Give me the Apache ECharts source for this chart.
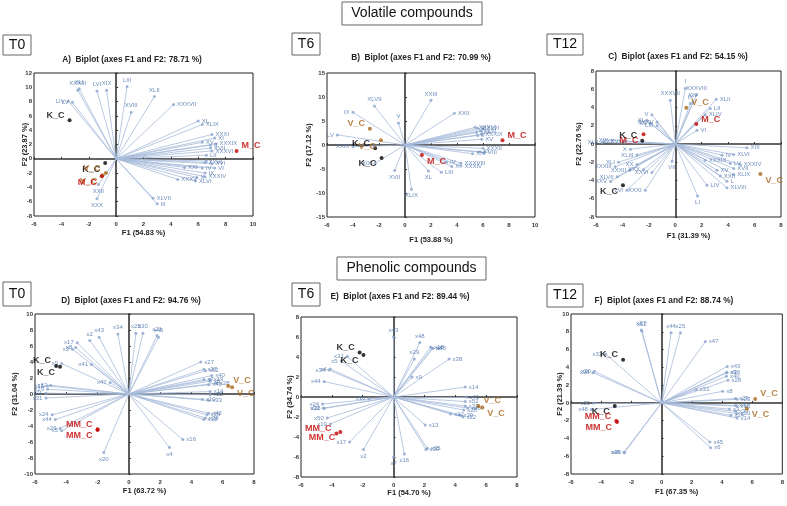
<!DOCTYPE html>
<html><head><meta charset="utf-8">
<script src="https://cdn.jsdelivr.net/npm/echarts@6/dist/echarts.min.js"></script>
<style>html,body{margin:0;padding:0;background:#fff}#c{width:787px;height:506px}</style>
</head><body><div id="c"></div>
<script>
// ---------- DATA ----------
// Volatile compounds, T0 : variable loadings [name, F1, F2]
const volT0Vars = [
 ['XXXIII',-2.8,9.6],['XLI',-2.7,9.8],['LIV',-3.5,8.1],['LV',-3.2,7.9],['LVI',-1.4,9.5],['XIX',-0.7,9.6],
 ['LIII',0.8,10.1],['XVIII',1.1,6.5],['XLII',2.8,8.7],['XXXVII',4.2,7.6],['XL',6.0,5.3],['XLIX',6.3,4.8],
 ['XXXI',7.0,3.4],['XI',7.2,2.9],['XV',6.3,2.3],['XXXIX',7.3,2.1],['II',6.9,1.9],['XVII',6.9,1.5],
 ['XXXVI',7.0,1.1],['LII',6.6,0.5],['XXVI',6.5,-0.5],['I',6.6,-0.3],['XVI',7.0,-0.7],['IV',6.3,-1.3],
 ['VI',7.2,-1.3],['XXI',5.0,-1.2],['IX',6.5,-2.0],['XXXV',4.5,-2.9],['X',5.9,-2.6],['XXXIV',6.5,-2.5],
 ['XLVI',5.8,-3.1],['XLVII',2.7,-5.5],['III',3.0,-6.3],['XXII',-1.3,-3.6],['XXX',-1.4,-5.6]
];
// observations [name, F1, F2]
const volT0Obs = [['K_C',-3.4,5.4],['K_C',-0.8,-0.6],['V_C',-0.75,-2.0],['V_C',-1.0,-2.3],['M_C',8.8,1.1],['M_C',-1.05,-2.45]];

const volT6Vars = [
 ['XXIII',2.0,9.3],['XXII',3.8,6.6],['XLVII',-2.35,8.1],['IX',-4.0,6.8],['V',-0.5,4.6],['LV',-5.2,2.1],
 ['XXIX',-4.0,-0.35],['XIX',-2.3,-3.8],['XVII',-0.8,-5.3],['XLIX',0.5,-9.2],['XXXVI',5.4,3.7],['XLVI',6.0,3.4],
 ['XLII',5.5,2.6],['XLIII',5.8,2.9],['III',5.6,3.5],['II',5.6,2.0],['XXXIX',5.9,2.2],['XV',5.9,1.2],
 ['XXXII',6.0,-0.7],['XI',5.75,-1.4],['VIII',6.1,-1.6],['XXI',5.2,-1.8],['XXXVIII',4.3,-3.8],['XXXIV',4.3,-4.4],
 ['IV',3.2,-3.6],['X',3.6,-4.5],['XL',1.8,-5.4],['LIII',2.8,-5.7]
];
const volT6Obs = [['V_C',-2.7,3.4],['V_C',-1.85,1.0],['K_C',-2.3,-0.7],['K_C',-1.8,-2.7],['M_C',7.5,1.0],['M_C',1.3,-2.1]];

const volT12Vars = [
 ['I',0.76,6.1],['XXXVII',-0.38,4.8],['XXXVIII',1.6,5.4],['XIV',1.34,4.6],['XLII',3.1,4.9],['LII',2.65,3.9],
 ['XLIV',2.27,3.2],['VI',1.64,1.5],['IX',1.14,4.45],['V',-1.77,3.2],['XI',-2.15,2.6],['XII',-1.9,2.3],
 ['XXXV',-1.39,2.4],['LIII',-1.39,2.0],['XIX',-4.8,0.42],['XXXVI',-3.9,0.3],['XLV',-5.55,0.17],['X',-3.4,-0.57],
 ['XLIII',-2.9,-1.2],['XLI',-4.3,-2.0],['XXXIII',-4.55,-2.5],['XXXII',-3.46,-2.9],['XX',-2.9,-2.25],['XXX',-2.4,-2.8],
 ['XXVI',-1.77,-3.13],['XLVII',-4.4,-3.6],['XXV',-4.9,-4.1],['LVI',-3.66,-5.07],['XXXI',-2.27,-5.07],['VII',-0.25,-1.9],
 ['XIII',5.43,-0.42],['XLVI',4.42,-1.15],['IV',3.54,-1.23],['XXXIX',2.27,-1.77],['LV',4.17,-2.14],['XXXIV',4.92,-2.25],
 ['XVII',4.42,-2.69],['XV',3.16,-2.88],['XLIX',4.42,-3.35],['XXII',3.41,-3.5],['L',3.91,-4.08],['LIV',2.4,-4.52],
 ['XLVIII',3.91,-4.8],['LI',1.69,-5.7]
];
const volT12Obs = [['V_C',0.83,3.97],['M_C',1.59,2.18],['M_C',-2.4,1.08],['K_C',-2.5,0.35],['K_C',-3.96,-4.52],['V_C',6.44,-3.3]];

// Phenolic compounds
const phenT0Vars = [
 ['x34',-0.7,7.5],['x25',0.45,7.6],['x30',0.9,7.6],['x21',1.8,7.3],['x45',1.9,7.1],['x43',-1.9,7.1],
 ['x2',-2.5,6.7],['x17',-3.3,6.4],['x8',-3.4,5.8],['x3',-3.6,5.6],['x9',-4.3,3.8],['x41',-2.4,3.7],
 ['x47',-1.2,1.45],['x12',-5.0,1.1],['x15',-5.2,1.0],['x29',-5.2,0.6],['x11',-5.3,0.1],['x31',-5.3,-0.5],
 ['x24',-4.9,-2.6],['x44',-4.7,-3.2],['x26',-4.4,-4.3],['x5',-4.3,-4.6],['x20',-1.6,-7.3],['x4',2.6,-6.7],
 ['x16',3.45,-5.7],['x27',4.6,4.0],['x37',4.8,3.1],['x52',4.9,2.9],['x40',5.3,2.3],['x19',5.2,1.8],
 ['x7',4.8,1.8],['x6',5.2,1.6],['x28',5.6,1.35],['x46',5.1,1.15],['x14',5.2,0.3],['x22',5.2,-0.1],
 ['x10',4.7,-0.65],['x33',5.1,-0.8],['x42',5.1,-2.4],['x36',5.0,-2.6],['x38',4.9,-3.0],['x13',4.8,-3.2]
];
const phenT0Obs = [['K_C',-4.65,3.5],['K_C',-4.4,3.4],['V_C',6.35,1.0],['V_C',6.6,0.85],['MM_C',-2.0,-4.4],['MM_C',-2.0,-4.5]];

const phenT6Vars = [
 ['x43',0,6.0],['x48',1.7,5.45],['x18',2.4,5.0],['x8',2.5,4.9],['x45',2.55,4.85],['x38',3.6,3.8],
 ['x29',1.35,3.8],['x9',1.2,2.0],['x14',4.65,1.0],['x41',4.7,0.0],['x52',4.65,-0.45],['x33',4.65,-0.9],
 ['x28',4.55,-1.3],['x30',4.3,-1.8],['x22',4.5,-2.0],['x46',4.8,-1.1],['x12',3.7,-1.7],['x13',2.05,-2.8],
 ['x35',2.2,-5.15],['x39',2.1,-5.25],['x16',0.7,-5.7],['x7',0,-6.0],['x2',-1.95,-5.25],['x17',-2.85,-4.5],
 ['x19',-4.1,-2.7],['x50',-4.3,-2.1],['x26',-4.5,-1.15],['x32',-4.55,-1.1],['x24',-4.6,-0.7],['x10',-1.6,-0.15],
 ['x44',-4.5,1.55],['x4',-4.1,2.8],['x34',-4.2,2.7],['x5',-3.4,3.6],['x31',-3.0,4.05]
];
const phenT6Obs = [['K_C',-2.2,4.45],['K_C',-1.95,4.2],['V_C',5.5,-0.9],['V_C',5.75,-1.05],['MM_C',-3.7,-3.65],['MM_C',-3.45,-3.5]];

const phenT12Vars = [
 ['x27',-1.35,8.2],['x52',-1.3,8.1],['x44',0.63,7.9],['x25',1.25,7.9],['x47',2.9,6.9],['x32',-3.7,5.5],
 ['x20',-4.45,3.55],['x38',-4.55,3.4],['x43',4.35,4.1],['x9',4.3,3.45],['x36',4.35,3.4],['x40',4.3,3.0],
 ['x28',4.4,2.55],['x31',2.3,1.5],['x8',4.05,1.3],['x29',4.9,0.5],['x23',5.0,0.4],['x42',4.9,-0.3],
 ['x18',5.0,-0.35],['x3',4.5,-0.7],['x37',4.9,-0.95],['x24',4.6,-1.4],['x30',5.0,-1.2],['x14',5.0,-1.7],
 ['x45',3.2,-4.4],['x6',3.25,-5.05],['x46',-2.5,-5.55],['x26',-2.45,-5.6],['x21',-4.5,0.0],['x48',-4.65,-0.75]
];
const phenT12Obs = [['K_C',-2.55,4.85],['K_C',-3.1,-0.35],['MM_C',-3.0,-2.05],['MM_C',-2.95,-2.15],['V_C',6.2,0.45],['V_C',5.65,-0.65]];

// axis ranges [min, max, interval]
const rangesX = [[-6,10,2],[-6,10,2],[-6,8,2],[-6,8,2],[-6,8,2],[-6,8,2]];
const rangesY = [[-8,12,2],[-15,15,5],[-8,8,2],[-10,10,2],[-8,8,2],[-8,10,2]];
const titles = ['A)  Biplot (axes F1 and F2: 78.71 %)','B)  Biplot (axes F1 and F2: 70.99 %)','C)  Biplot (axes F1 and F2: 54.15 %)',
                'D)  Biplot (axes F1 and F2: 94.76 %)','E)  Biplot (axes F1 and F2: 89.44 %)','F)  Biplot (axes F1 and F2: 88.74 %)'];
const xNames = ['F1 (54.83 %)','F1 (53.88 %)','F1 (31.39 %)','F1 (63.72 %)','F1 (54.70 %)','F1 (67.35 %)'];
const yNames = ['F2 (23.87 %)','F2 (17.12 %)','F2 (22.76 %)','F2 (31.04 %)','F2 (34.74 %)','F2 (21.39 %)'];
const timeLabels = ['T0','T6','T12','T0','T6','T12'];
const sectionLabels = ['Volatile compounds','Phenolic compounds'];

// ---------- LAYOUT ----------
const allVars = [volT0Vars, volT6Vars, volT12Vars, phenT0Vars, phenT6Vars, phenT12Vars];
const allObs = [volT0Obs, volT6Obs, volT12Obs, phenT0Obs, phenT6Obs, phenT12Obs];
const grids = [
 {left:34, top:73, width:219, height:143},
 {left:327, top:73, width:208, height:144},
 {left:596, top:71, width:185, height:146},
 {left:35, top:314, width:219, height:160},
 {left:301, top:317, width:216, height:160},
 {left:571, top:314, width:214, height:160}
];
const xNameGap = [13, 19, 15, 13, 12, 14];
const yNameGap = [5, 14, 13, 16, 7, 7];
const titlePos = [[132,60],[421,58],[678,57],[131,301],[400,297],[664,301]];
const timeBoxes = [[3,35,28,20],[292,33,28,22],[547,34,36,21],[3,282,28,24],[292,283,28,23],[547,284,36,23]];
const sectionBoxes = [[342,2,140,23],[337,257,149,23]];
const obsColor = {K_C:'#000000', M_C:'#c00000', MM_C:'#c00000', V_C:'#a8661a'};

const xAxis = [], yAxis = [], series = [], graphic = [];
grids.forEach((g, i) => {
  const rx = rangesX[i], ry = rangesY[i];
  const base = {gridIndex:i, type:'value', splitLine:{show:false}};
  xAxis.push(Object.assign({}, base, {min:rx[0], max:rx[1], interval:rx[2], position:'bottom',
    axisLine:{show:false, onZero:false}, axisTick:{show:false},
    axisLabel:{fontSize:6, color:'#333', fontWeight:'bold', margin:5},
    name:xNames[i], nameLocation:'middle', nameGap:xNameGap[i], nameMoveOverlap:false,
    nameTextStyle:{fontSize:7.5, fontWeight:'bold', color:'#222'}}));
  xAxis.push(Object.assign({}, base, {min:rx[0], max:rx[1], interval:rx[2], position:'top',
    axisLine:{show:true, onZero:true, lineStyle:{color:'#333', width:1.6}},
    axisTick:{show:true, length:2, lineStyle:{color:'#333'}}, axisLabel:{show:false}}));
  yAxis.push(Object.assign({}, base, {min:ry[0], max:ry[1], interval:ry[2], position:'left',
    axisLine:{show:false, onZero:false}, axisTick:{show:false},
    axisLabel:{fontSize:6, color:'#333', fontWeight:'bold', margin:2},
    name:yNames[i], nameLocation:'middle', nameGap:yNameGap[i], nameRotate:90, nameMoveOverlap:false,
    nameTextStyle:{fontSize:7.5, fontWeight:'bold', color:'#222'}}));
  yAxis.push(Object.assign({}, base, {min:ry[0], max:ry[1], interval:ry[2], position:'right',
    axisLine:{show:true, onZero:true, lineStyle:{color:'#333', width:1.6}},
    axisTick:{show:true, length:2, lineStyle:{color:'#333'}}, axisLabel:{show:false}}));

  const vars = allVars[i];
  series.push({type:'lines', coordinateSystem:'cartesian2d', xAxisIndex:2*i, yAxisIndex:2*i, silent:true, z:2,
    lineStyle:{color:'#a7bbdb', width:0.8, opacity:1},
    data: vars.map(v => ({coords:[[0,0],[v[1],v[2]]]}))});
  series.push({type:'scatter', xAxisIndex:2*i, yAxisIndex:2*i, symbolSize:3, z:3,
    itemStyle:{color:'#8aa4cc'},
    label:{show:true, formatter:'{b}', fontSize:6, color:'#4a71aa', distance:2},
    data: vars.map(v => {
      let pos = v[1] >= 0 ? 'right' : 'left';
      if (Math.abs(v[2]) > 2.5*Math.abs(v[1])) pos = v[2] > 0 ? 'top' : 'bottom';
      return {name:v[0], value:[v[1],v[2]], label:{position:pos}};
    })});
  const obs = allObs[i];
  const seen = {};
  series.push({type:'scatter', xAxisIndex:2*i, yAxisIndex:2*i, symbolSize:4, z:5,
    data: obs.map(o => {
      const k = seen[o[0]] = (seen[o[0]] || 0) + 1;
      const c = obsColor[o[0]];
      return {name:o[0], value:[o[1],o[2]], itemStyle:{color:c},
        label:{show:true, formatter:'{b}', position:o[1] >= 0 ? 'right' : 'left', distance:3,
          offset:[0, k === 1 ? -5 : 6], fontSize:9, fontWeight:'bold', color:c, fontFamily:'Liberation Sans'}};
    })});

  graphic.push({type:'text', x:titlePos[i][0], y:titlePos[i][1], style:{text:titles[i], fontSize:8.3,
    fontWeight:'bold', fill:'#222', fontFamily:'Liberation Sans', textAlign:'center', textVerticalAlign:'middle'}});
  const b = timeBoxes[i];
  graphic.push({type:'rect', shape:{x:b[0], y:b[1], width:b[2], height:b[3]}, style:{fill:'#fff', stroke:'#666', lineWidth:1}});
  graphic.push({type:'text', x:b[0]+b[2]/2, y:b[1]+b[3]/2, style:{text:timeLabels[i], fontSize:14, fill:'#111',
    fontFamily:'Liberation Sans', textAlign:'center', textVerticalAlign:'middle'}});
});
sectionBoxes.forEach((b, j) => {
  graphic.push({type:'rect', shape:{x:b[0], y:b[1], width:b[2], height:b[3]}, style:{fill:'#fff', stroke:'#666', lineWidth:1}});
  graphic.push({type:'text', x:b[0]+b[2]/2, y:b[1]+b[3]/2, style:{text:sectionLabels[j], fontSize:14, fill:'#111',
    fontFamily:'Liberation Sans', textAlign:'center', textVerticalAlign:'middle'}});
});

const chart = echarts.init(document.getElementById('c'), null, {renderer:'canvas'});
chart.setOption({
  animation:false,
  textStyle:{fontFamily:'Liberation Sans'},
  grid: grids.map(g => Object.assign({show:true, borderColor:'#222', borderWidth:1, backgroundColor:'#fff'}, g)),
  xAxis, yAxis, series, graphic
});
</script></body></html>
